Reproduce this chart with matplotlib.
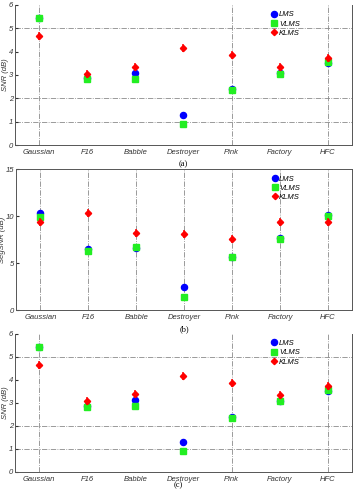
#! /usr/bin/env python3

"""
Three panels of per-noise SNR / SegSNR results for LMS, VLMS and KLMS.
"""

import matplotlib
matplotlib.use("Agg")
import matplotlib.pyplot as plt

noise_types = ["Gaussian", "F16", "Babble", "Destroyer", "Pink", "Factory", "HFC"]

# SNR (dB), panel (a) and (c)
snr_lms  = [5.44, 2.86, 3.10, 1.29, 2.40, 3.07, 3.51]
snr_vlms = [5.44, 2.83, 2.84, 0.90, 2.34, 3.06, 3.57]
snr_klms = [4.65, 3.06, 3.36, 4.16, 3.84, 3.32, 3.74]

# SegSNR (dB), panel (b)
seg_lms  = [10.31, 6.47, 6.58, 2.42, 5.65, 7.68, 10.10]
seg_vlms = [9.88, 6.29, 6.72, 1.42, 5.65, 7.60, 10.02]
seg_klms = [9.38, 10.38, 8.18, 8.07, 7.57, 9.42, 9.42]

panels = [
    ("SNR (dB)", snr_lms, snr_vlms, snr_klms, 6, "(a)"),
    ("SegSNR (dB)", seg_lms, seg_vlms, seg_klms, 15, "(b)"),
    ("SNR (dB)", snr_lms, snr_vlms, snr_klms, 6, "(c)"),
]

# [left, bottom, width, height] in figure fraction
boxes = [
    [0.042, 0.704, 0.944, 0.286],
    [0.046, 0.367, 0.940, 0.288],
    [0.042, 0.037, 0.944, 0.282],
]

fig = plt.figure(figsize=(3.57, 4.90), dpi=100)
plt.rcParams["font.family"] = ["Liberation Sans", "DejaVu Sans"]

x = list(range(1, len(noise_types) + 1))
gridkw = dict(color="#8a8a8a", linestyle="-.", linewidth=0.6, zorder=0)

for i, (ylabel, lms, vlms, klms, ymax, tag) in enumerate(panels):
    ax = fig.add_axes(boxes[i])
    ax.set_xlim(0.5, 7.5)
    ax.set_ylim(0, ymax)

    if ymax == 6:
        # only part of the grid shows in the original
        for gx in [1, 5, 7]:
            ax.axvline(gx, **gridkw)
        for gy in [1, 2, 5]:
            ax.axhline(gy, **gridkw)
        ax.set_yticks(range(0, 7))
        ax.spines["top"].set_visible(False)
    else:
        for gx in x:
            ax.axvline(gx, **gridkw)
        ax.set_yticks([0, 5, 10, 15])

    ax.plot(x, lms, "o", color="#0000ff", markersize=4.4, label="LMS", zorder=3)
    ax.plot(x, vlms, "s", color="#22ee22", markersize=3.9, label="VLMS", zorder=4)
    ax.plot(x, klms, "D", color="#ff0000", markersize=3.2, zorder=5)
    ax.plot(x, klms, "|", color="#ff0000", markersize=5.5, markeredgewidth=1.1,
            zorder=5)
    ax.plot([], [], "D", color="#ff0000", markersize=3.2, label="KLMS")

    ax.set_xticks(x)
    ax.set_xticklabels(noise_types, fontsize=5.5, style="italic", color="#333333")
    ax.tick_params(axis="y", labelsize=5.5, direction="in", length=2,
                   pad=1.5, colors="#333333")
    ax.tick_params(axis="x", length=0, pad=3)
    for lab in ax.get_yticklabels():
        lab.set_style("italic")
    ax.set_ylabel(ylabel, fontsize=5.5, style="italic", labelpad=0,
                  color="#333333")
    for s in ax.spines.values():
        s.set_color("#555555")
        s.set_linewidth(0.7)

    ax.legend(loc="upper left", bbox_to_anchor=(0.74, 1.0), frameon=False,
              handletextpad=0.1, labelspacing=0.25,
              handlelength=1.0, borderpad=0.3, prop={"style": "italic", "size": 5.5})

    if tag == "(c)":
        # sits on the bottom edge of the page
        fig.text(0.5, 0.001, tag, ha="center", va="bottom", fontsize=6,
                 family="Liberation Serif")
    else:
        ax.annotate(tag, xy=(0.5, 0), xycoords="axes fraction",
                    xytext=(0, -11), textcoords="offset points",
                    ha="center", va="top", fontsize=6, family="Liberation Serif")

fig.savefig("out.png", dpi=100)
